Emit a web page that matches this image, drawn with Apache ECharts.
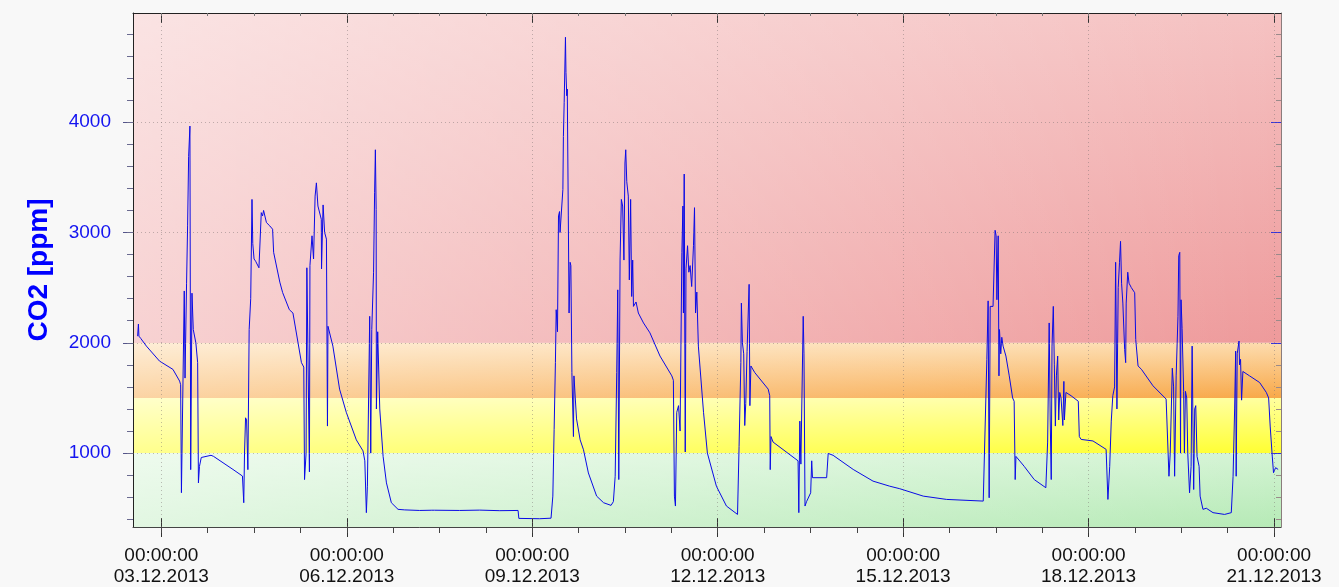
<!DOCTYPE html>
<html>
<head>
<meta charset="utf-8">
<script src="https://cdn.jsdelivr.net/npm/echarts@6/dist/echarts.min.js"></script>
<style>
html,body{margin:0;padding:0;background:#f8f8f8;}
#c{width:1339px;height:587px;}
</style>
</head>
<body>
<div id="c"></div>
<script>
// Time in hours after 03.12.2013 00:00:00
const hours = [
-9.2,-8.9,-8.7,-8.0,-5.8,-0.7,4.5,7.1,7.5,7.8,
8.0,8.9,9.2,9.8,10.2,10.6,11.1,11.4,11.9,12.4,13.4,14.1,14.4,14.8,15.5,19.3,20.3,27.8,31.5,31.7,32.0,
32.3,32.7,33.1,33.6,34.1,34.7,35.2,35.5,36.0,36.6,37.9,38.8,39.3,39.7,40.8,42.1,43.2,43.6,46.0,47.1,49.7,51.1,54.4,55.3,
55.6,56.2,56.5,57.5,57.7,58.5,59.1,59.7,60.2,60.8,62.1,62.2,62.8,63.4,64.1,64.5,64.7,65.4,66.6,69.2,71.8,75.7,78.3,79.0,79.6,80.0,
80.9,81.3,81.7,82.4,82.8,83.1,83.4,83.5,84.0,84.4,84.8,86.1,87.4,89.3,91.9,94.5,100.3,105.0,105.5,106.1,115.8,123.6,131.4,138.5,138.8,146.9,151.3,
152.0,152.5,153.0,153.3,153.8,154.2,154.6,154.8,155.5,155.9,156.1,156.4,156.9,157.1,157.4,157.6,158.0,158.3,158.7,159.0,159.4,160.0,160.2,160.7,161.2,162.6,163.9,165.8,169.0,171.7,174.6,
175.5,176.2,176.8,177.2,177.6,178.1,178.6,179.1,179.6,180.0,180.3,180.7,181.3,181.7,182.2,182.6,183.0,183.3,184.3,185.2,187.2,189.7,193.6,198.2,198.8,199.2,199.6,
200.1,200.8,201.4,202.1,202.5,202.7,203.0,203.4,203.7,204.3,204.8,205.3,205.9,206.6,207.0,207.4,207.9,208.5,210.5,212.0,215.5,219.4,223.7,
224.3,225.0,225.2,225.6,226.1,226.5,226.9,227.4,228.2,228.5,228.9,230.4,235.6,236.2,236.4,236.7,237.5,247.2,247.5,247.9,248.3,249.2,249.5,249.9,250.5,252.1,252.5,252.8,258.3,258.9,260.8,268.6,276.3,282.8,286.7,295.8,304.9,319.1,
319.7,320.5,321.0,321.4,321.8,322.9,323.7,324.1,324.4,324.9,325.2,325.4,325.9,326.3,326.8,327.9,329.2,330.5,331.1,331.5,331.8,335.0,338.9,343.4,
344.1,344.7,345.1,345.5,345.8,346.3,346.7,347.1,347.5,348.0,348.4,348.8,349.3,350.0,350.4,350.6,351.2,353.2,356.0,356.4,357.1,357.8,361.7,366.8,
367.5,368.2,368.8,369.4,370.1,370.5,371.0,371.5,372.0,372.4,372.8,373.3,374.0,374.4,374.6,375.2,375.7,376.6,377.9,378.3,379.2,380.5,385.0,390.1,
390.4,391.2,391.7,392.5,393.0,393.4,394.0,394.7,395.0,395.4,395.7,395.9,396.3,396.9,397.2,397.6,398.1,398.5,399.2,399.8,400.2,400.5,400.8,401.2,401.6,402.1,402.9,403.3,404.4,405.7,408.3,412.8,
415.4,416.1,416.7,417.1,417.3,417.7,418.4,418.6,419.0,419.4,419.9,422.5,426.4,429.0,429.9,430.5,431.3,431.8,432.6,433.6
];
const co2 = [
2060,2170,2060,2040,1970,1834,1759,1653,1620,641,
641,2470,1680,2540,3060,3690,3965,850,2450,2120,2000,1820,730,880,960,980,970,852,792,790,550,
1000,1320,1300,850,2120,2400,3300,2900,2760,2740,2680,3180,3150,3200,3090,3060,3030,2820,2550,2455,2300,2270,1820,1780,
760,1000,2680,830,2700,2970,2760,3330,3450,3240,3120,2670,3250,3000,2940,1245,2150,2150,1970,1580,1370,1120,1020,930,460,700,
2240,1000,2120,2640,3360,3750,3210,1400,2100,2110,1400,970,730,550,490,485,480,482,500,482,480,483,478,480,408,405,410,
610,1215,1820,2300,2100,3150,3190,3000,3000,3390,3870,4180,4770,4450,4240,4300,3150,2270,2730,2700,1730,1150,1700,1500,1310,1120,1030,820,610,550,526,
560,790,1730,2480,760,2750,3300,3240,2750,3630,3750,3460,3330,2570,3300,2420,2750,2330,2370,2270,2180,2090,1880,1700,1660,610,520,
1370,1430,1200,2820,3240,2270,3530,1010,2670,2880,2640,2700,2510,2880,3225,2270,2460,1970,1370,1000,700,520,444,
1060,1820,2360,2000,1900,1250,1450,1920,2530,1430,1790,1730,1580,1520,850,1150,1100,930,460,1290,900,2240,1900,520,560,640,930,777,777,997,980,852,746,700,677,610,580,565,
580,1850,2380,595,2330,2330,3020,2970,2390,2970,1700,2120,1900,2050,1970,1880,1700,1500,1470,760,970,880,760,686,
1100,2180,1300,760,1970,2330,1800,1245,1700,1880,1300,1550,1500,1250,1650,1300,1550,1520,1470,1150,1124,1140,1110,1034,
580,880,1290,1520,1600,2730,1400,2500,2730,2920,2540,2360,1940,1820,2360,2640,2540,2500,2454,2030,1790,1760,1610,1490,
1480,790,1000,1770,1600,790,1700,2240,2790,2820,1000,2390,2130,1560,1000,1560,1500,1000,640,880,1970,1985,670,1400,1430,970,880,610,490,500,460,444,
460,790,1400,1925,790,1900,2016,1800,1850,1480,1740,1700,1640,1550,1500,1245,973,822,868,852
];
const xMajorTicks = [0,72,144,216,288,360,432];
const xMinorTicks = [0,18,36,54,72,90,108,126,144,162,180,198,216,234,252,270,288,306,324,342,360,378,396,414,432];
const yMajorTicks = [1000,2000,3000,4000];
const yMinorTicks = [400,600,800,1000,1200,1400,1600,1800,2000,2200,2400,2600,2800,3000,3200,3400,3600,3800,4000,4200,4400,4600,4800];
const bandLimits = [1000,1500,2000];
const X_MIN = -11, X_MAX = 434.7, Y_MIN = 330, Y_MAX = 4990;
const BASE = Date.UTC(2013,11,3);

function pad(n){return (n<10?'0':'')+n;}
function fmtX(h){
  const d = new Date(BASE + h*3600000);
  return pad(d.getUTCHours())+':'+pad(d.getUTCMinutes())+':'+pad(d.getUTCSeconds())+'\n'+
         pad(d.getUTCDate())+'.'+pad(d.getUTCMonth()+1)+'.'+d.getUTCFullYear();
}
const G = echarts.graphic.LinearGradient;
const vgrad = (a,b)=>new G(0,0,0,1,[{offset:0,color:a},{offset:1,color:b}]);
const hfade = (alpha)=>new G(0,0,1,0,[{offset:0,color:'rgba(255,255,255,'+alpha+')'},{offset:1,color:'rgba(255,255,255,0)'}]);

function band(lo,hi,top,bottom,alpha){
  return [
    [{yAxis:hi,itemStyle:{color:vgrad(top,bottom)}},{yAxis:lo}],
    [{yAxis:hi,itemStyle:{color:hfade(alpha)}},{yAxis:lo}]
  ];
}
const areas = [].concat(
  band(Y_MIN,bandLimits[0],'#d4f4d4','#b6eab6',0.6),
  band(bandLimits[0],bandLimits[1],'#ffffa0','#ffff30',0.45),
  band(bandLimits[1],bandLimits[2],'#fddcae','#f8a848',0.5),
  band(bandLimits[2],Y_MAX,'#f5c2c2','#ee9a9b',0.55)
);
const gridMarks = xMajorTicks.map(v=>({xAxis:v})).concat(yMajorTicks.map(v=>({yAxis:v})));

const FONT = '"Liberation Sans", Arial, sans-serif';
function mkX(extra){
  return Object.assign({type:'value',min:X_MIN,max:X_MAX,z:4,
    splitLine:{show:false},minorSplitLine:{show:false},minorTick:{show:false},
    axisLabel:{show:false},axisLine:{show:false,onZero:false},axisTick:{show:false}},extra);
}
function mkY(extra){
  return Object.assign({type:'value',min:Y_MIN,max:Y_MAX,z:4,
    splitLine:{show:false},minorSplitLine:{show:false},minorTick:{show:false},
    axisLabel:{show:false},axisLine:{show:false,onZero:false},axisTick:{show:false}},extra);
}

const option = {
  animation:false,
  backgroundColor:'#f8f8f8',
  grid:{left:133,right:58,top:13,bottom:59,show:false},
  xAxis:[
    mkX({position:'bottom',
      axisLine:{show:true,onZero:false,lineStyle:{color:'#444',width:1}},
      axisTick:{show:true,customValues:xMajorTicks,length:10,lineStyle:{color:'#333'}},
      axisLabel:{show:true,customValues:xMajorTicks,formatter:fmtX,color:'#111',fontFamily:FONT,fontSize:19,lineHeight:21,margin:18}}),
    mkX({position:'bottom',axisTick:{show:true,customValues:xMinorTicks,length:6,lineStyle:{color:'#444'}}}),
    mkX({position:'bottom',axisTick:{show:true,inside:true,customValues:xMajorTicks,length:9,lineStyle:{color:'#333'}}}),
    mkX({position:'top',
      axisLine:{show:true,onZero:false,lineStyle:{color:'#222',width:1}},
      axisTick:{show:true,inside:true,customValues:xMajorTicks,length:10,lineStyle:{color:'#333'}}}),
    mkX({position:'top',axisTick:{show:true,inside:true,customValues:xMinorTicks,length:3,lineStyle:{color:'#777'}}})
  ],
  yAxis:[
    mkY({position:'left',
      name:'CO2 [ppm]',nameLocation:'middle',nameGap:80,
      nameTextStyle:{color:'#0000ff',fontFamily:FONT,fontWeight:'bold',fontSize:28},
      axisLine:{show:true,onZero:false,lineStyle:{color:'#222',width:1}},
      axisTick:{show:true,customValues:yMajorTicks,length:10,lineStyle:{color:'#55558a'}},
      axisLabel:{show:true,customValues:yMajorTicks,formatter:v=>String(v),color:'#1414f0',fontFamily:FONT,fontSize:19,margin:22}}),
    mkY({position:'left',axisTick:{show:true,customValues:yMinorTicks,length:6,lineStyle:{color:'#6a6a90'}}}),
    mkY({position:'right',
      axisLine:{show:true,onZero:false,lineStyle:{color:'#8a7c7c',width:1}},
      axisTick:{show:true,inside:true,customValues:yMinorTicks,length:5,lineStyle:{color:'#9a8a8a'}}}),
    mkY({position:'right',axisTick:{show:true,inside:true,customValues:yMajorTicks,length:10,lineStyle:{color:'#3030e0'}}})
  ],
  series:[{
    type:'line',
    xAxisIndex:0,yAxisIndex:0,
    showSymbol:false,
    symbol:'none',
    data:hours.map((h,i)=>[h,co2[i]]),
    lineStyle:{color:'#0a0ae6',width:1},
    markArea:{silent:true,data:areas},
    markLine:{silent:true,symbol:'none',label:{show:false},
      lineStyle:{color:'rgba(120,110,110,0.45)',type:[1,3],width:1},
      data:gridMarks}
  }]
};
const chart = echarts.init(document.getElementById('c'));
chart.setOption(option);
</script>
</body>
</html>
